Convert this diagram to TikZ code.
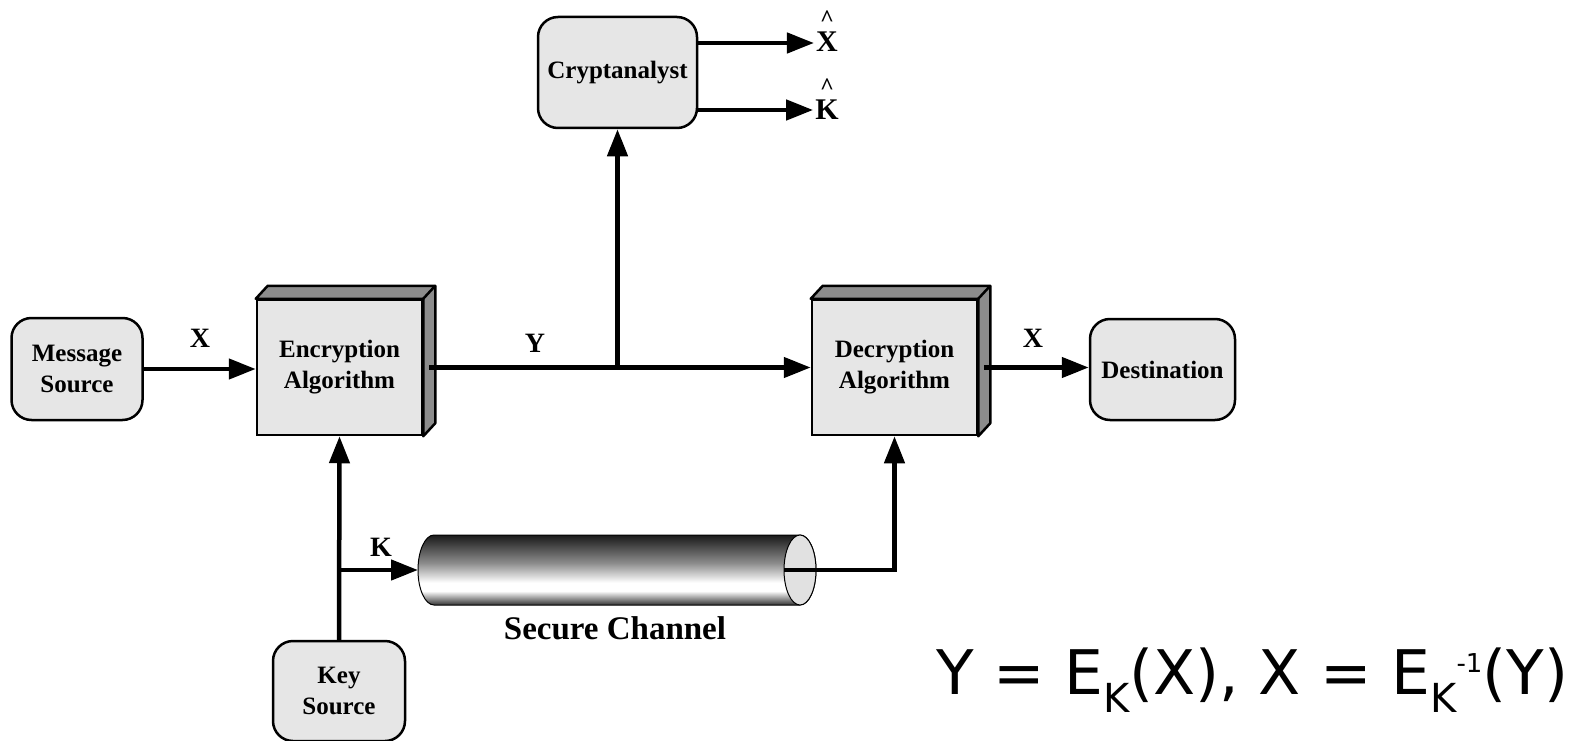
\documentclass[tikz,border=0pt]{standalone}
\usepackage{fontspec}
\setmainfont{Liberation Serif}
\newfontfamily\eqfont{DejaVu Sans}
\usepackage{xcolor}
\usetikzlibrary{arrows.meta,positioning,calc}
\definecolor{boxgray}{RGB}{230,230,230}
\definecolor{sidegray}{RGB}{140,140,140}
\definecolor{endgray}{RGB}{225,225,225}
\pgfdeclareverticalshading{pipe}{100bp}{color(0bp)=(black!80); color(25bp)=(black!80); color(35bp)=(white); color(41bp)=(white); color(55bp)=(black!45); color(75bp)=(black!90); color(100bp)=(black!90)}
\tikzset{
  roundbox/.style={draw, line width=2.5pt, fill=boxgray, rounded corners=20pt, align=center, font=\fontsize{25}{31}\selectfont\bfseries, inner sep=0pt},
  algbox/.style={draw, line width=2.5pt, fill=boxgray, align=center, font=\fontsize{25}{31}\selectfont\bfseries, inner sep=0pt, minimum width=165pt, minimum height=135pt},
  flow/.style={line width=4.5pt, -{Triangle[length=27pt,width=20pt]}},
  varlabel/.style={font=\fontsize{28}{28}\selectfont\bfseries, inner sep=2pt},
  hatlabel/.style={font=\fontsize{30}{30}\selectfont\bfseries, inner ysep=0pt, inner xsep=2pt, anchor=base}
}
\newcommand{\boxdepth}[1]{%
  \filldraw[line width=2.5pt, fill=sidegray, line join=round] (#1.north west) -- ++(12,-13) -- ([shift={(12,-13)}]#1.north east) -- ([shift={(12,-13)}]#1.south east) -- (#1.south east) -- (#1.north east) -- cycle;
  \draw[line width=2.5pt] (#1.north east) -- ++(12,-13);}
\newcommand{\hatted}[1]{\ooalign{#1\cr\hidewidth\raisebox{25pt}{\fontsize{24}{24}\selectfont\textasciicircum}\hidewidth\cr}}
\newcommand{\subK}{\raisebox{-18pt}{\fontsize{40}{40}\selectfont K}}
\newcommand{\supinv}{\raisebox{22pt}{\fontsize{26}{26}\selectfont -1}}

\begin{document}
\begin{tikzpicture}[x=1pt, y=-1pt]
\useasboundingbox (0,0) rectangle (1571,741);

% Boxes
\node[roundbox, minimum width=131pt, minimum height=102pt] (msg) at (77,369) {Message\\Source};
\node[algbox] (enc) at (339.5,367.5) {Encryption\\Algorithm};
\boxdepth{enc}
\node[algbox] (dec) at (894.5,367.5) {Decryption\\Algorithm};
\boxdepth{dec}
\node[roundbox, minimum width=145pt, minimum height=101pt] (dest) at (1162.5,369.5) {Destination};
\node[roundbox, minimum width=159pt, minimum height=111pt] (crypt) at (617.5,72.5) {Cryptanalyst};
\node[roundbox, minimum width=132pt, minimum height=100pt] (key) at (339,691) {Key\\Source};

% Secure channel
\shade[shading=pipe, draw, line width=1pt] (800,535) -- (434,535) arc[start angle=90, end angle=270, x radius=16pt, y radius=35pt] -- (800,605) arc[start angle=-90, end angle=90, x radius=16pt, y radius=35pt] -- cycle;
\filldraw[fill=endgray, line width=1pt] (800,570) ellipse [x radius=16pt, y radius=35pt];
\coordinate (chanin) at (418,570);
\coordinate (chanout) at (784,570);
\node[font=\fontsize{33}{33}\selectfont\bfseries] (chanlbl) at (615,628) {Secure Channel};

% Outputs of cryptanalyst
\node[hatlabel] (xhat) at (827,52) {\hatted{X}};
\node[hatlabel] (khat) at (827,120) {\hatted{K}};

% Connectors
\coordinate (tap) at (crypt.south |- enc.east);
\coordinate (kb) at (key.north |- chanin);
\draw[flow] (msg.east) -- (msg.east -| enc.west);
\draw[line width=4.5pt] ([xshift=6pt]enc.east) -- (tap);
\draw[flow] (tap) -- (dec.west);
\draw[flow] (tap) -- (crypt.south);
\draw[flow] ([yshift=9pt]crypt.east |- xhat.base) -- ([yshift=9pt]xhat.base west);
\draw[flow] ([yshift=10pt]crypt.east |- khat.base) -- ([yshift=10pt]khat.base west);
\draw[flow] (key.north) -- (enc.south);
\draw[flow] (kb) -- (chanin);
\draw[flow] (chanout) -| (dec.south);
\draw[flow] ([xshift=6pt]dec.east) -- (dec.east -| dest.west);

% Labels
\node[varlabel] (xin) at (200,338) {X};
\node[varlabel] (ylbl) at (535,343) {Y};
\node[varlabel] (xout) at (1033,338) {X};
\node[varlabel] (klbl) at (381,547) {K};

% Equation
\node[anchor=base west, inner sep=0pt, font=\eqfont\fontsize{61.5}{62}\selectfont] (eq) at (936,694) {Y = E\subK(X), X = E\subK\supinv(Y)};
\end{tikzpicture}
\end{document}
